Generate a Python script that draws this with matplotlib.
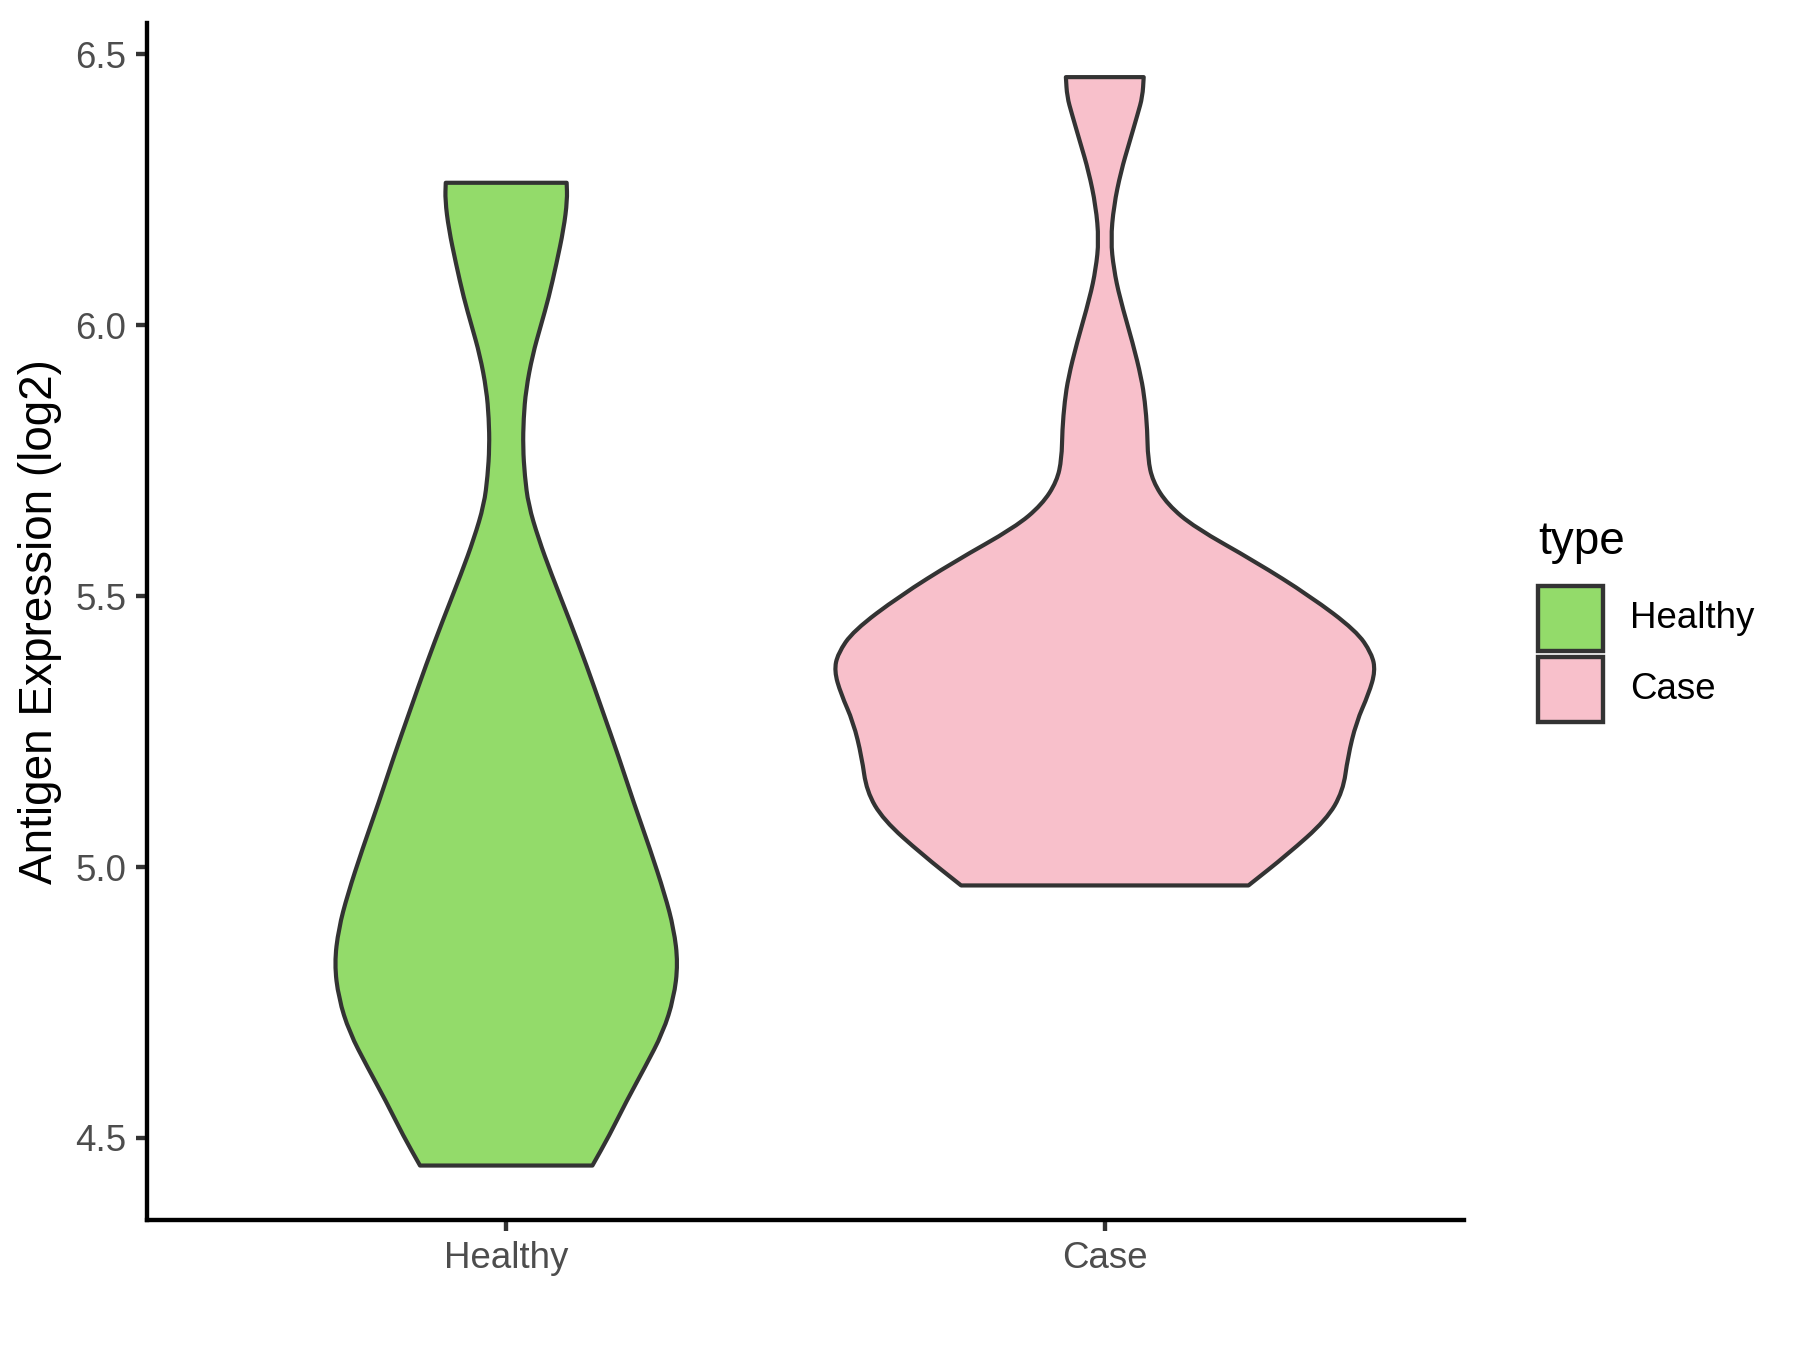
import matplotlib
matplotlib.use("Agg")
import matplotlib.pyplot as plt
from matplotlib.patches import Rectangle, PathPatch
from matplotlib.path import Path
import numpy as np

plt.rcParams['font.family'] = ['Liberation Sans', 'DejaVu Sans']

categories = ["Healthy", "Case"]
colors = {"Healthy": "#93DB6A", "Case": "#F8C0CB"}

# violin profiles: expression value and half-width (x units)
healthy_y = [6.263, 6.231, 6.178, 6.114, 6.051, 6.000, 5.945, 5.881, 5.828, 5.775,
             5.722, 5.669, 5.606, 5.542, 5.458, 5.373, 5.288, 5.203, 5.119, 5.034,
             4.949, 4.886, 4.822, 4.758, 4.695, 4.631, 4.568, 4.504, 4.449]
healthy_w = [0.101, 0.102, 0.096, 0.084, 0.071, 0.058, 0.044, 0.033, 0.029, 0.028,
             0.031, 0.037, 0.054, 0.075, 0.105, 0.134, 0.161, 0.188, 0.213, 0.240,
             0.265, 0.280, 0.287, 0.280, 0.262, 0.232, 0.201, 0.172, 0.144]

case_y = [6.458, 6.422, 6.390, 6.337, 6.284, 6.220, 6.157, 6.104, 6.051, 5.966,
          5.903, 5.860, 5.807, 5.754, 5.712, 5.669, 5.627, 5.564, 5.500, 5.436,
          5.394, 5.362, 5.320, 5.267, 5.203, 5.140, 5.087, 5.023, 4.966]
case_w = [0.065, 0.063, 0.055, 0.041, 0.027, 0.015, 0.010, 0.015, 0.025, 0.047,
          0.061, 0.067, 0.071, 0.072, 0.080, 0.105, 0.150, 0.251, 0.343, 0.420,
          0.446, 0.452, 0.441, 0.420, 0.406, 0.398, 0.370, 0.305, 0.240]

profiles = {"Healthy": (healthy_y, healthy_w), "Case": (case_y, case_w)}

yticks = [4.5, 5.0, 5.5, 6.0, 6.5]
ytick_labels = ["4.5", "5.0", "5.5", "6.0", "6.5"]


def smooth_side(pts, verts, codes, first):
    """Append a smooth quadratic-Bezier run through the side points."""
    pts = [np.asarray(p, float) for p in pts]
    verts.append(pts[0]); codes.append(Path.MOVETO if first else Path.LINETO)
    verts.append((pts[0] + pts[1]) / 2); codes.append(Path.LINETO)
    for k in range(1, len(pts) - 1):
        verts.append(pts[k]); codes.append(Path.CURVE3)
        verts.append((pts[k] + pts[k + 1]) / 2); codes.append(Path.CURVE3)
    verts.append(pts[-1]); codes.append(Path.LINETO)


fig = plt.figure(figsize=(6, 4.5), dpi=300)
ax = fig.add_axes([0.0817, 0.0963, 0.8133 - 0.0817, 0.983 - 0.0963])

edge = "#333333"
for i, cat in enumerate(categories):
    pos = i + 1
    ys, ws = profiles[cat]
    left = [(pos - w, y) for y, w in zip(ys, ws)]
    right = [(pos + w, y) for y, w in zip(ys[::-1], ws[::-1])]
    verts, codes = [], []
    smooth_side(left, verts, codes, True)
    smooth_side(right, verts, codes, False)
    verts.append(left[0]); codes.append(Path.LINETO)
    verts.append(left[0]); codes.append(Path.CLOSEPOLY)
    patch = PathPatch(Path(verts, codes), facecolor=colors[cat], edgecolor=edge,
                      linewidth=1.0, joinstyle='round')
    ax.add_patch(patch)

ax.set_xlim(0.4, 2.6)
ax.set_ylim(4.3485, 6.558)
ax.set_xticks([1, 2])
ax.set_xticklabels(categories)
ax.set_yticks(yticks)
ax.set_yticklabels(ytick_labels)

for s in ["top", "right"]:
    ax.spines[s].set_visible(False)
for s in ["left", "bottom"]:
    ax.spines[s].set_linewidth(1.05)
    ax.spines[s].set_color("black")

ax.tick_params(axis='both', length=2.75, width=1.05, color="#333333",
               labelsize=8.8, labelcolor="#4D4D4D", pad=2.2)

fig.text(0.0222, (0.0963 + 0.983) / 2, "Antigen Expression (log2)", rotation=90,
         ha='center', va='center', fontsize=11, color='black')

# legend
fig.text(0.8544, 0.5893, "type", fontsize=11, ha='left', va='baseline', color='black')
kw = 0.0361
kh = 0.0481
keys = [("Healthy", 0.5178), ("Case", 0.4652)]
for cat, yb in keys:
    fig.add_artist(Rectangle((0.8544, yb), kw, kh, transform=fig.transFigure,
                             facecolor=colors[cat], edgecolor=edge, linewidth=1.05))
    fig.text(0.9056, yb + kh / 2, cat, fontsize=8.8, ha='left', va='center', color='black')

fig.savefig("out.png", dpi=300)
